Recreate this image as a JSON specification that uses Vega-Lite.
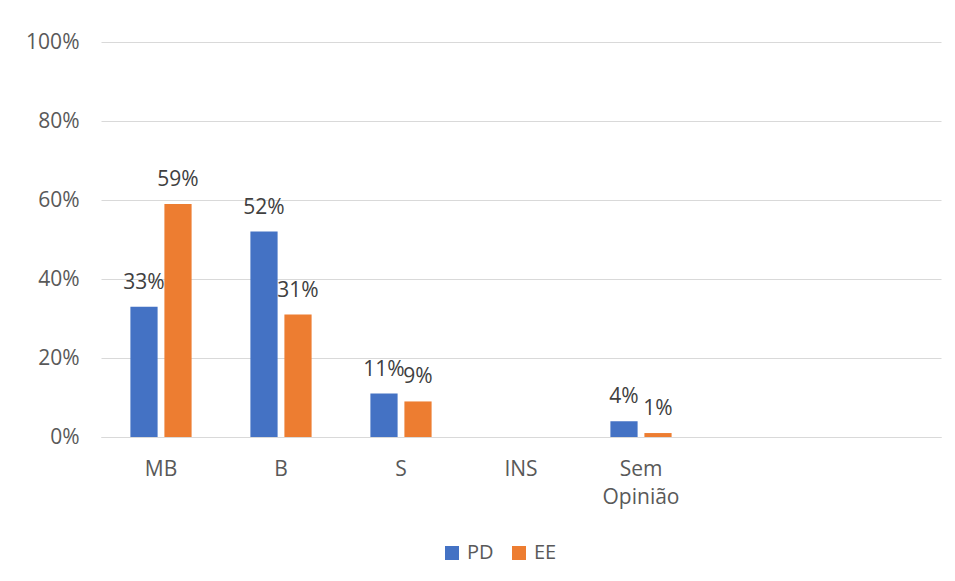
{
  "$schema": "https://vega.github.io/schema/vega-lite/v6.json",
  "width": 840,
  "height": 395,
  "autosize": {"type": "none"},
  "padding": {"left": 101, "top": 42, "right": 14, "bottom": 144},
  "background": "white",
  "data": {
    "values": [
      {"category": "MB", "series": "PD", "value": 0.33},
      {"category": "MB", "series": "EE", "value": 0.59},
      {"category": "B", "series": "PD", "value": 0.52},
      {"category": "B", "series": "EE", "value": 0.31},
      {"category": "S", "series": "PD", "value": 0.11},
      {"category": "S", "series": "EE", "value": 0.09},
      {"category": "Sem Opinião", "series": "PD", "value": 0.04},
      {"category": "Sem Opinião", "series": "EE", "value": 0.01}
    ]
  },
  "encoding": {
    "x": {
      "field": "category",
      "type": "nominal",
      "sort": null,
      "scale": {
        "domain": ["MB", "B", "S", "INS", "Sem Opinião", "_6", "_7"],
        "paddingInner": 0.49,
        "paddingOuter": 0.245
      },
      "axis": {
        "title": null,
        "labelAngle": 0,
        "ticks": false,
        "domain": true,
        "domainColor": "#d9d9d9",
        "domainWidth": 1,
        "labelPadding": 21,
        "labelFont": "Open Sans",
        "labelFontSize": 21,
        "labelColor": "#595959",
        "labelLineHeight": 28,
        "labelBaseline": "top",
        "labelExpr": "datum.value == 'Sem Opinião' ? ['Sem', 'Opinião'] : (indexof(datum.value, '_') == 0 ? '' : datum.label)"
      }
    },
    "xOffset": {
      "field": "series",
      "type": "nominal",
      "sort": ["PD", "EE"],
      "scale": {"paddingInner": 0.2, "paddingOuter": 0}
    },
    "y": {
      "field": "value",
      "type": "quantitative",
      "scale": {"domain": [0, 1], "nice": false},
      "axis": {
        "title": null,
        "format": ".0%",
        "values": [0, 0.2, 0.4, 0.6, 0.8, 1],
        "domain": false,
        "ticks": false,
        "grid": true,
        "gridColor": "#d9d9d9",
        "gridWidth": 1,
        "labelPadding": 22,
        "labelFont": "Open Sans",
        "labelFontSize": 21,
        "labelColor": "#595959"
      }
    }
  },
  "layer": [
    {
      "mark": {"type": "bar"},
      "encoding": {
        "color": {
          "field": "series",
          "type": "nominal",
          "sort": ["PD", "EE"],
          "scale": {"domain": ["PD", "EE"], "range": ["#4472C4", "#ED7D31"]},
          "legend": {
            "title": null,
            "orient": "none",
            "direction": "horizontal",
            "legendX": 341,
            "legendY": 501,
            "symbolType": "square",
            "symbolSize": 196,
            "symbolStrokeWidth": 0,
            "labelFont": "Open Sans",
            "labelFontSize": 20,
            "labelColor": "#595959",
            "labelOffset": 5,
            "columnPadding": 15,
            "padding": 0
          }
        }
      }
    },
    {
      "mark": {
        "type": "text",
        "baseline": "alphabetic",
        "dy": -18,
        "font": "Open Sans",
        "fontSize": 21,
        "color": "#404040"
      },
      "encoding": {
        "text": {"field": "value", "type": "quantitative", "format": ".0%"}
      }
    }
  ],
  "config": {
    "view": {"stroke": null}
  }
}
